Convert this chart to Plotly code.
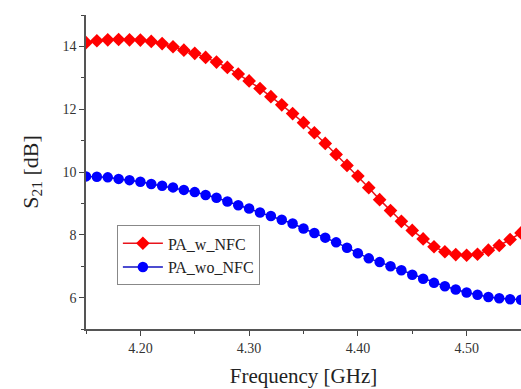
import plotly.graph_objects as go

freq = [round(4.15 + 0.01 * i, 2) for i in range(41)]

pa_w_nfc = [14.12, 14.18, 14.21, 14.22, 14.21, 14.20, 14.16, 14.09, 13.99, 13.88,
            13.78, 13.65, 13.50, 13.33, 13.12, 12.90, 12.66, 12.40, 12.14, 11.86,
            11.57, 11.25, 10.91, 10.56, 10.21, 9.87, 9.50, 9.12, 8.77, 8.43,
            8.14, 7.87, 7.62, 7.46, 7.37, 7.35, 7.38, 7.51, 7.66, 7.85, 8.06]

pa_wo_nfc = [9.86, 9.85, 9.83, 9.78, 9.74, 9.69, 9.62, 9.56, 9.51, 9.43,
             9.36, 9.27, 9.18, 9.06, 8.94, 8.84, 8.71, 8.60, 8.48, 8.36,
             8.20, 8.06, 7.91, 7.76, 7.59, 7.41, 7.25, 7.13, 7.00, 6.87,
             6.73, 6.60, 6.47, 6.36, 6.26, 6.16, 6.09, 6.02, 5.98, 5.95, 5.93]

x_ticks = [4.20, 4.30, 4.40, 4.50]
y_ticks = [6, 8, 10, 12, 14]

FONT = "Liberation Serif, Times New Roman, serif"

fig = go.Figure()
fig.add_trace(go.Scatter(
    x=freq, y=pa_w_nfc, name="PA_w_NFC", mode="lines+markers",
    line=dict(color="#e8141c", width=1.5),
    marker=dict(symbol="diamond", size=10.5, color="#ff0000"),
))
fig.add_trace(go.Scatter(
    x=freq, y=pa_wo_nfc, name="PA_wo_NFC", mode="lines+markers",
    line=dict(color="#1010c0", width=1.5),
    marker=dict(symbol="circle", size=10.5, color="#0000ff"),
))

axis_common = dict(
    showgrid=False, zeroline=False, showline=True, linecolor="#555555", linewidth=1.5,
    ticks="outside", ticklen=5, tickwidth=1.2, tickcolor="#444444",
    tickfont=dict(family=FONT, size=14, color="#333333"),
    minor=dict(ticks="outside", ticklen=3, tickwidth=1, tickcolor="#444444", showgrid=False),
)

fig.update_xaxes(
    range=[4.15, 4.55], tickvals=x_ticks, ticktext=[f"{v:.2f}" for v in x_ticks],
    minor_dtick=0.05, minor_tick0=4.15,
    title=dict(text="Frequency [GHz]", font=dict(family=FONT, size=21, color="#222222"), standoff=14),
    **axis_common,
)
fig.update_yaxes(
    range=[5, 15], tickvals=y_ticks,
    minor_dtick=1, minor_tick0=5,
    title=dict(text="S<sub>21</sub> [dB]", font=dict(family=FONT, size=22, color="#222222"), standoff=18),
    **axis_common,
)

fig.update_layout(
    width=521, height=389,
    margin=dict(l=86, r=0, t=15, b=60),
    paper_bgcolor="white", plot_bgcolor="white",
    showlegend=True,
    legend=dict(
        x=0.071, y=0.33, xanchor="left", yanchor="top",
        bgcolor="white", bordercolor="#888888", borderwidth=1,
        font=dict(family=FONT, size=16, color="#222222"),
        tracegroupgap=0, itemwidth=40,
    ),
)

fig.write_html("out.html")
